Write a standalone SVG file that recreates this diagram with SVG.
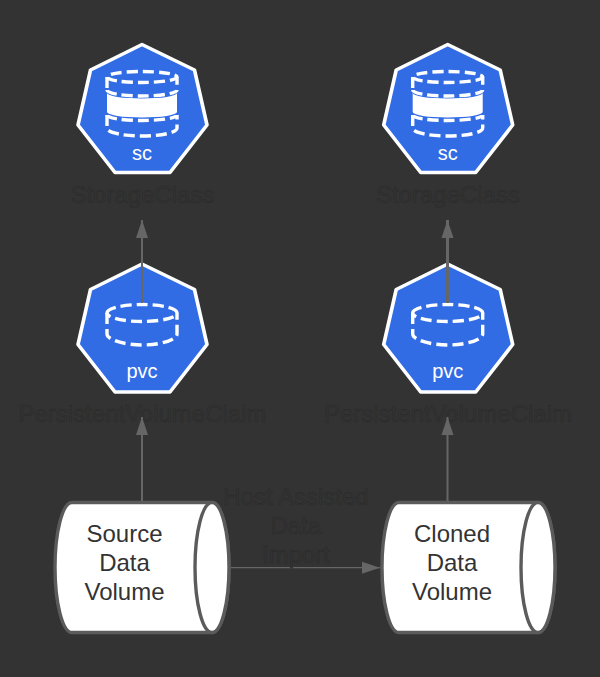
<svg xmlns="http://www.w3.org/2000/svg" width="600" height="677" viewBox="0 0 600 677">
<style>
text{font-family:"Liberation Sans",Arial,sans-serif;text-anchor:middle}
.hept{fill:#326ce5;stroke:#fff;stroke-width:3.6;stroke-linejoin:round}
.dash{fill:none;stroke:#fff;stroke-width:3.4;stroke-dasharray:11 5}
.band{fill:#fff}
.icon{fill:#fff;font-size:20px}
.dim{fill:#333;stroke:#2a2a2a;stroke-width:.6;font-size:24px}
.cyl{fill:#fff;stroke:#5b5b5b;stroke-width:3.4}
.vol{fill:#333;font-size:24px}
.conn{fill:none;stroke:#666;stroke-width:2}
.thick{fill:none;stroke:#666;stroke-width:3}
.thin{fill:none;stroke:#666;stroke-width:1.2}
</style>
<defs>
<marker id="ah" markerUnits="userSpaceOnUse" markerWidth="20" markerHeight="14" refX="18" refY="7" orient="auto"><path d="M0 1L18 7L0 13Z" fill="#666"/></marker>
<path id="hp" class="hept" d="M142 44.500L194.500 70L207 125L170 172.500H115L78 125L90.500 70Z"/>
<g id="sci">
<path class="dash" d="M107 88V77A35 5.500 0 0 1 177 77V88"/>
<path class="dash" d="M107 77A35 5.500 0 0 0 177 77"/>
<path class="dash" d="M107 90A35 6 0 0 0 177 90"/>
<path class="band" d="M107 93A35 5.500 0 0 0 177 93V112A35 5.500 0 0 1 107 112Z"/>
<path class="dash" d="M107 115A35 5.500 0 0 0 177 115"/>
<path class="dash" d="M107 115V128C107 133 125 136 142 136C160 136 177 133 177 128V115"/>
</g>
<g id="pvi">
<path class="dash" d="M107 313A35 8.500 0 0 1 177 313A35 8.500 0 0 1 107 313"/>
<path class="dash" d="M107 313V334C107 340 125 345 142 345C160 345 177 340 177 334V313"/>
</g>
</defs>
<rect width="600" height="677" fill="#333"/>
<g id="sc-left">
<use href="#hp"/>
<use href="#sci"/>
<text class="icon" x="142" y="160">sc</text>
</g>
<text class="dim" x="142.500" y="202.500">StorageClass</text>
<g id="sc-right">
<use href="#hp" x="305.700"/>
<use href="#sci" x="305.700"/>
<text class="icon" x="447.700" y="160">sc</text>
</g>
<text class="dim" x="448" y="202.500">StorageClass</text>
<g id="pvc-left">
<use href="#hp" y="219.500"/>
<use href="#pvi"/>
<text class="icon" x="142" y="378">pvc</text>
</g>
<text class="dim" x="142.500" y="422">PersistentVolumeClaim</text>
<g id="pvc-right">
<use href="#hp" x="305.700" y="219.500"/>
<use href="#pvi" x="305.700"/>
<text class="icon" x="447.700" y="378">pvc</text>
</g>
<text class="dim" x="448" y="422">PersistentVolumeClaim</text>
<g id="source-volume">
<path class="cyl" d="M72 502.500H212C221.500 502.500 229 532 229 567.500C229 603 221.500 632.500 212 632.500H72C62.500 632.500 55 603 55 567.500C55 532 62.500 502.500 72 502.500Z"/>
<ellipse class="cyl" cx="212" cy="567.500" rx="17" ry="65"/>
<text class="vol" x="124.500" y="542">Source</text>
<text class="vol" x="124.500" y="571">Data</text>
<text class="vol" x="124.500" y="600">Volume</text>
</g>
<g id="cloned-volume">
<path class="cyl" d="M399 502.500H538C547.500 502.500 555 532 555 567.500C555 603 547.500 632.500 538 632.500H399C389.500 632.500 382 603 382 567.500C382 532 389.500 502.500 399 502.500Z"/>
<ellipse class="cyl" cx="538" cy="567.500" rx="17" ry="65"/>
<text class="vol" x="452" y="542">Cloned</text>
<text class="vol" x="452" y="571">Data</text>
<text class="vol" x="452" y="600">Volume</text>
</g>
<g id="connectors">
<path class="conn" d="M142 303V220" marker-end="url(#ah)"/>
<path class="thick" d="M447.500 303V220" marker-end="url(#ah)"/>
<path class="conn" d="M142 501V417" marker-end="url(#ah)"/>
<path class="conn" d="M447.500 501V417" marker-end="url(#ah)"/>
<path class="thin" d="M231 567.700H380" marker-end="url(#ah)"/>
</g>
<g id="edge-label">
<text class="dim" x="296" y="505">Host Assisted</text>
<text class="dim" x="296" y="534">Data</text>
<text class="dim" x="296" y="563">Import</text>
</g>
</svg>
